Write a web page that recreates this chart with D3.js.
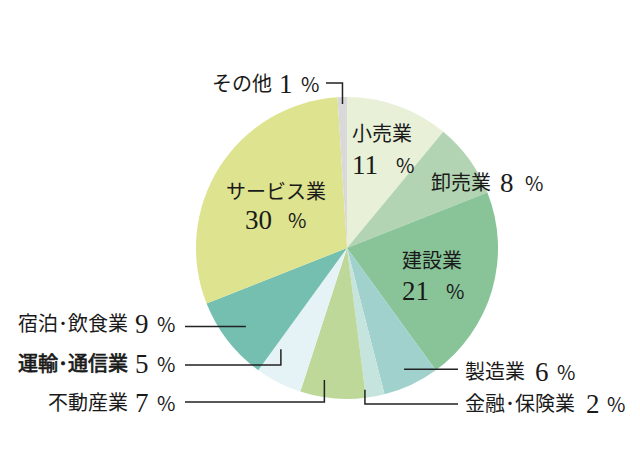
<!DOCTYPE html>
<html><head><meta charset="utf-8">
<script src="https://cdn.jsdelivr.net/npm/d3@7"></script>
<style>
html,body{margin:0;padding:0;background:#fff;}
svg{display:block;}
</style></head>
<body>
<svg id="chart" width="640" height="476"></svg>
<script>
// ---- data ----
const categories = ["小売業","卸売業","建設業","製造業","金融･保険業","不動産業","運輸･通信業","宿泊･飲食業","サービス業","その他"];
const values = [11, 8, 21, 6, 2, 7, 5, 9, 30, 1];
const colors = ["#e8f0d8","#b2d4b2","#88c498","#a1d1cd","#c6e4de","#bdd898","#e6f3f6","#74bfb0","#dde38e","#d9d9d9"];

// ---- layout (label placement) ----
const W = 640, H = 476, cx = 347, cy = 248, R = 151;
const labelLayout = {
  "小売業":   {lx:352, ly:141, anchor:"start", nx:352, ny:174, px:396},
  "卸売業":   {lx:431, ly:190, anchor:"start", nx:500, ny:192, px:525},
  "建設業":   {lx:402, ly:268, anchor:"start", nx:402, ny:300, px:446},
  "製造業":   {lx:465, ly:379, anchor:"start", nx:535, ny:381, px:557, lead:[[458,371],[null,null]], la:0.43, lr:134},
  "金融･保険業": {lx:465, ly:411, anchor:"start", nx:586, ny:413, px:607, elbow:{x1:458, y:404}, la:0.48, lr:143},
  "不動産業": {lx:128, ly:410, anchor:"end", nx:135, ny:412, px:157, elbow:{x1:185, y:402}, la:0.527, lr:134},
  "運輸･通信業": {lx:128, ly:371, anchor:"end", nx:135, ny:373, px:157, elbow:{x1:185, y:365}, la:0.592, lr:121, bold:true},
  "宿泊･飲食業": {lx:128, ly:331, anchor:"end", nx:135, ny:333, px:157, straight:{x1:185}, la:0.645, lr:128},
  "サービス業": {lx:226, ly:199, anchor:"start", nx:245, ny:229, px:288},
  "その他":   {lx:272, ly:91, anchor:"end", nx:279, ny:93, px:301, elbowTop:{x1:326, y:83}, la:0.995, lr:144}
};

const svg = d3.select("#chart");
const g = svg.append("g").attr("transform", `translate(${cx},${cy})`);

const pie = d3.pie().sort(null).value(d => d)(values);
const arc = d3.arc().innerRadius(0).outerRadius(R);

g.selectAll("path.slice").data(pie).enter().append("path")
  .attr("class","slice")
  .attr("d", arc)
  .attr("fill", (d,i) => colors[i]);

function polar(frac, r){
  const a = frac * 2 * Math.PI;
  return [cx + r*Math.sin(a), cy - r*Math.cos(a)];
}

const lines = svg.append("g").attr("stroke","#222").attr("stroke-width",1.5).attr("fill","none");
const jpFont = "'Noto Sans CJK JP','Noto Sans CJK SC',sans-serif";
const numFont = "'Liberation Serif','Times New Roman',serif";

categories.forEach((name, i) => {
  const L = labelLayout[name];
  if (L.la !== undefined) {
    const [ex, ey] = polar(L.la, L.lr);
    let pts;
    if (L.elbow) pts = [[L.elbow.x1, L.elbow.y],[ex, L.elbow.y],[ex, ey]];
    else if (L.elbowTop) pts = [[L.elbowTop.x1, L.elbowTop.y],[ex, L.elbowTop.y],[ex, ey]];
    else if (L.straight) pts = [[L.straight.x1, ey],[ex, ey]];
    else pts = [[L.lead[0][0], ey],[ex, ey]];
    lines.append("path").attr("d", d3.line()(pts));
  }
  const t = svg.append("text")
    .attr("x", L.lx).attr("y", L.ly)
    .attr("text-anchor", L.anchor)
    .attr("font-family", jpFont)
    .attr("font-size", 20)
    .attr("fill", "#1a1a1a")
    .text(name);
  if (L.bold) t.attr("stroke", "#1a1a1a").attr("stroke-width", 0.7);
  svg.append("text")
    .attr("x", L.nx).attr("y", L.ny)
    .attr("font-family", numFont)
    .attr("font-size", 27)
    .attr("fill", "#1a1a1a")
    .text(values[i]);
  svg.append("text")
    .attr("x", L.px).attr("y", L.ny - 1)
    .attr("font-family", jpFont)
    .attr("font-size", 20)
    .attr("fill", "#1a1a1a")
    .text("%");
});
</script>
</body></html>
